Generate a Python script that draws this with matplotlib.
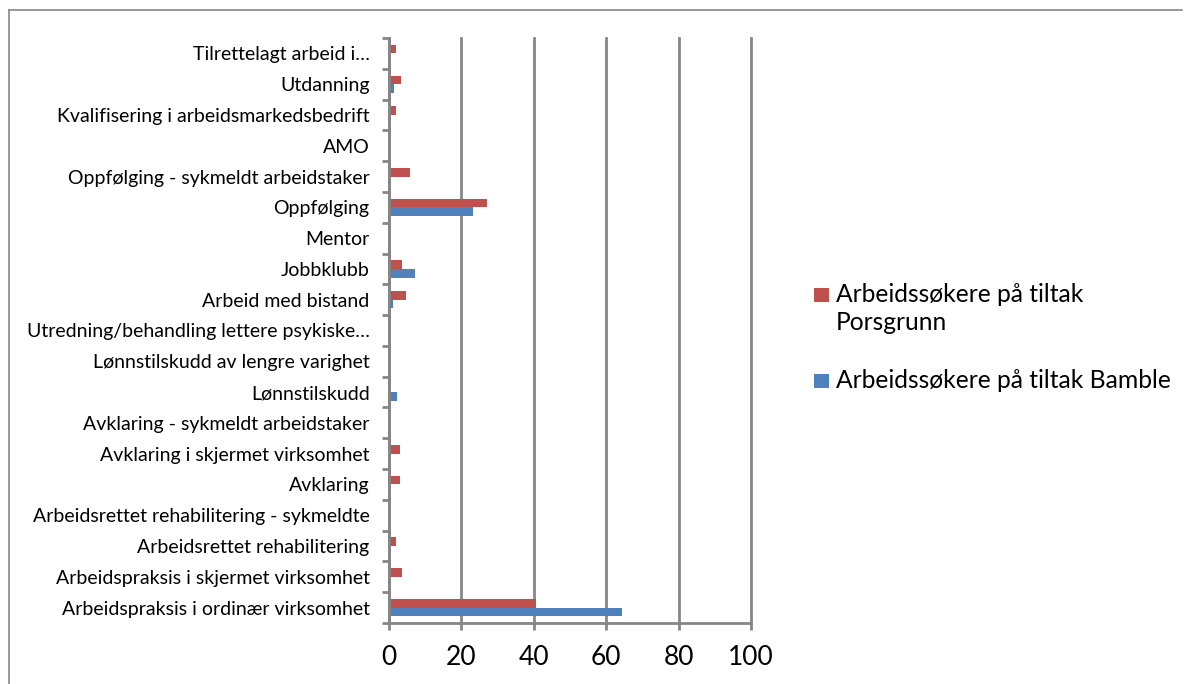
import matplotlib
matplotlib.use("Agg")
import matplotlib.pyplot as plt
import numpy as np
from matplotlib.patches import Rectangle
from matplotlib.lines import Line2D

categories = [
    "Arbeidspraksis i ordinær virksomhet",
    "Arbeidspraksis i skjermet virksomhet",
    "Arbeidsrettet rehabilitering",
    "Arbeidsrettet rehabilitering - sykmeldte",
    "Avklaring",
    "Avklaring i skjermet virksomhet",
    "Avklaring - sykmeldt arbeidstaker",
    "Lønnstilskudd",
    "Lønnstilskudd av lengre varighet",
    "Utredning/behandling lettere psykiske…",
    "Arbeid med bistand",
    "Jobbklubb",
    "Mentor",
    "Oppfølging",
    "Oppfølging - sykmeldt arbeidstaker",
    "AMO",
    "Kvalifisering i arbeidsmarkedsbedrift",
    "Utdanning",
    "Tilrettelagt arbeid i…",
]
porsgrunn = [40.5, 3.6, 2.0, 0, 3.0, 3.0, 0, 0, 0, 0, 4.6, 3.7, 0, 27.0, 5.8, 0, 2.0, 3.3, 2.0]
bamble = [64.5, 0, 0, 0, 0, 0, 0, 2.1, 0, 0, 1.2, 7.3, 0, 23.1, 0, 0.4, 0, 1.3, 0]
series_names = ["Arbeidssøkere på tiltak\nPorsgrunn", "Arbeidssøkere på tiltak Bamble"]
xticks = [0, 20, 40, 60, 80, 100]

plt.rcParams['font.family'] = ['Lato', 'DejaVu Sans']

W, H = 1187, 684
fig = plt.figure(figsize=(W / 100, H / 100), dpi=100)
ax = fig.add_axes([389 / W, 1 - 623 / H, (751 - 389) / W, (623 - 38) / H])

red = "#C0504D"
blue = "#4F81BD"
grid = "#868686"

y = np.arange(len(categories))
h = 0.28
ax.barh(y + h / 2, porsgrunn, height=h, color=red, zorder=3)
ax.barh(y - h / 2, bamble, height=h, color=blue, zorder=3)

ax.set_xlim(0, 100)
ax.set_ylim(-0.5, len(categories) - 0.5)
ax.set_xticks(xticks)
ax.set_xticklabels([str(v) for v in xticks], fontsize=19)
ax.set_yticks(y)
ax.set_yticklabels(categories, fontsize=14)
ax.set_yticks(np.arange(len(categories) + 1) - 0.5, minor=True)
ax.tick_params(axis='y', which='major', length=0, pad=14)
ax.tick_params(axis='y', which='minor', length=5, width=2, color=grid, direction='out')
ax.tick_params(axis='x', length=5, width=2, color=grid, direction='out', pad=11)

ax.xaxis.grid(True, color=grid, linewidth=2, zorder=0)
for gl in ax.get_xgridlines():
    gl.set_clip_on(False)
ax.set_axisbelow(True)
for s in ["top", "right"]:
    ax.spines[s].set_visible(False)
for s in ["left", "bottom"]:
    ax.spines[s].set_color(grid)
    ax.spines[s].set_linewidth(2)
    ax.spines[s].set_zorder(4)

# legend (drawn manually to match the reference layout)
def px(x, yy):
    return x / W, 1 - yy / H

for (col, name, ytop) in [(red, series_names[0], 288), (blue, series_names[1], 374)]:
    x0, y0 = px(814, ytop + 14)
    fig.patches.append(Rectangle((x0, y0), 15 / W, 14 / H, transform=fig.transFigure,
                                 facecolor=col, edgecolor="none"))
    tx, ty = px(836, ytop - 5)
    fig.text(tx, ty, name, fontsize=17.7, va="top", ha="left", linespacing=1.25)

# outer frame (left and top edges visible)
fig.lines.append(Line2D([9 / W, 9 / W], [0, 1 - 10 / H], transform=fig.transFigure,
                        color="#888888", linewidth=1.2))
fig.lines.append(Line2D([9 / W, 1182 / W], [1 - 10 / H, 1 - 10 / H], transform=fig.transFigure,
                        color="#888888", linewidth=1.2))

fig.savefig("out.png", dpi=100)
